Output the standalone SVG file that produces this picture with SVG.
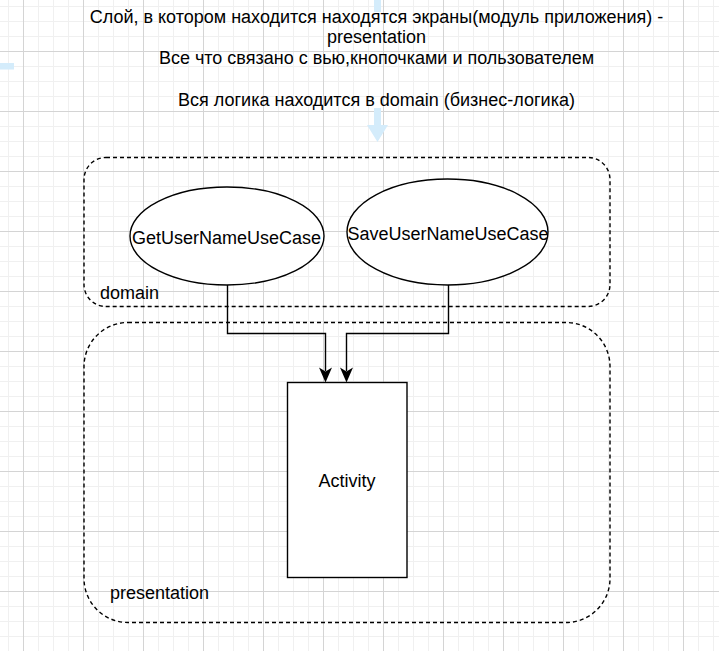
<svg xmlns="http://www.w3.org/2000/svg" width="719" height="651" viewBox="0 0 719 651">
  <style>
    .t { font-family: "Liberation Sans", Arial, sans-serif; font-size: 18px; fill: #000; }
    .c { text-anchor: middle; }
    .box { fill: none; stroke: #000; stroke-width: 1.4; stroke-dasharray: 4 3; }
    .shape { fill: #fff; stroke: #000; stroke-width: 1.4; }
    .edge { fill: none; stroke: #000; stroke-width: 1.4; }
    .hover { fill: #d4ecfb; }
  </style>
  <defs>
    <pattern id="minor" patternUnits="userSpaceOnUse" x="8" y="6" width="15" height="15">
      <path d="M0 0.5H15M0.5 0V15" stroke="#f0f0f0" stroke-width="1" fill="none"/>
    </pattern>
    <pattern id="major" patternUnits="userSpaceOnUse" x="23" y="51" width="60" height="60">
      <path d="M0 0.5H60M0.5 0V60" stroke="#d4d4d4" stroke-width="1" fill="none"/>
    </pattern>
  </defs>

  <rect width="719" height="651" fill="#fff"/>
  <rect width="719" height="651" fill="url(#minor)"/>
  <rect width="719" height="651" fill="url(#major)"/>

  <g id="hover-arrows">
    <rect class="hover" x="0" y="63" width="14" height="6.5"/>
    <path class="hover" d="M374 0 H381 V12 H374 Z"/>
    <path class="hover" d="M374 108 H381 V125 H388 L377.5 142 L367 125 H374 Z"/>
  </g>

  <g id="title">
    <text class="t c" x="376.5" y="22.5">Слой, в котором находится находятся экраны(модуль приложения) -</text>
    <text class="t c" x="376.5" y="43.4">presentation</text>
    <text class="t c" x="376.5" y="64.3">Все что связано с вью,кнопочками и пользователем</text>
    <text class="t c" x="376.5" y="106">Вся логика находится в domain (бизнес-логика)</text>
  </g>

  <g id="domain">
    <rect class="box" x="84" y="157.5" width="526" height="149" rx="22" ry="22"/>
    <text class="t" x="100" y="298.5">domain</text>
  </g>

  <g id="presentation">
    <rect class="box" x="84" y="322.5" width="526" height="300" rx="44" ry="44"/>
    <text class="t" x="110" y="598.5">presentation</text>
  </g>

  <g id="connectors">
    <path class="edge" d="M227.5 285 V333.5 H325.5 V371" />
    <path class="edge" d="M448.5 285 V333.5 H346.5 V371" />
    <path d="M325.5 382.5 L319 367.5 L325.5 371.5 L332 367.5 Z" fill="#000"/>
    <path d="M346.5 382.5 L340 367.5 L346.5 371.5 L353 367.5 Z" fill="#000"/>
  </g>

  <g id="getUserNameUseCase">
    <ellipse class="shape" cx="227" cy="236" rx="97" ry="49"/>
    <text class="t c" x="226.5" y="244">GetUserNameUseCase</text>
  </g>

  <g id="saveUserNameUseCase">
    <ellipse class="shape" cx="447.5" cy="232" rx="100.5" ry="53"/>
    <text class="t c" x="448" y="239.5">SaveUserNameUseCase</text>
  </g>

  <g id="activity">
    <rect class="shape" x="287.5" y="382.5" width="119.5" height="195"/>
    <text class="t c" x="347" y="487">Activity</text>
  </g>
</svg>
